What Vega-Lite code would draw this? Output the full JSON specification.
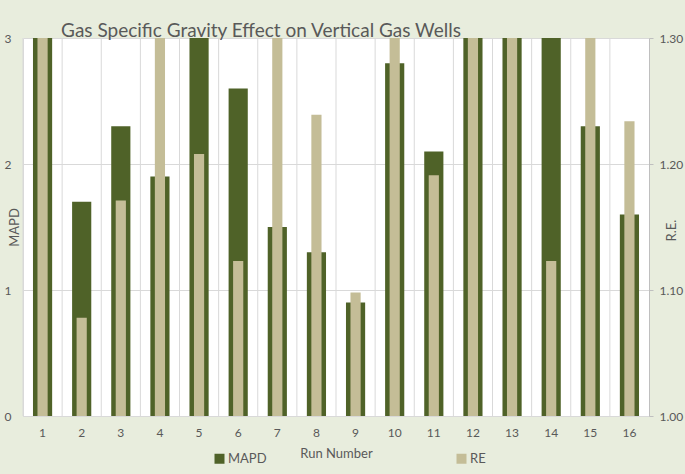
{
  "$schema": "https://vega.github.io/schema/vega-lite/v6.json",
  "width": 626,
  "height": 378,
  "autosize": {"type": "none"},
  "padding": {"left": 23, "top": 38, "right": 36, "bottom": 58},
  "background": "#e8eddd",
  "title": {
    "text": "Gas Specific Gravity Effect on Vertical Gas Wells",
    "font": "Lato",
    "fontSize": 19,
    "fontWeight": "normal",
    "color": "#595959",
    "anchor": "middle",
    "frame": "group",
    "dx": -75,
    "dy": 22,
    "baseline": "bottom",
    "offset": -6
  },
  "config": {
    "view": {"fill": "white", "stroke": null},
    "font": "Lato",
    "axis": {
      "labelFont": "Lato",
      "titleFont": "Lato",
      "labelColor": "#595959",
      "titleColor": "#595959",
      "labelFontSize": 12,
      "titleFontSize": 13,
      "titleFontWeight": "normal"
    }
  },
  "data": {
    "values": [
      {"run": 1, "MAPD": 3.4, "RE": 1.34},
      {"run": 2, "MAPD": 1.7, "RE": 1.078},
      {"run": 3, "MAPD": 2.3, "RE": 1.171},
      {"run": 4, "MAPD": 1.9, "RE": 1.33},
      {"run": 5, "MAPD": 3.3, "RE": 1.208},
      {"run": 6, "MAPD": 2.6, "RE": 1.123},
      {"run": 7, "MAPD": 1.5, "RE": 1.32},
      {"run": 8, "MAPD": 1.3, "RE": 1.239},
      {"run": 9, "MAPD": 0.9, "RE": 1.098},
      {"run": 10, "MAPD": 2.8, "RE": 1.31},
      {"run": 11, "MAPD": 2.1, "RE": 1.191},
      {"run": 12, "MAPD": 3.2, "RE": 1.33},
      {"run": 13, "MAPD": 3.1, "RE": 1.34},
      {"run": 14, "MAPD": 3.3, "RE": 1.123},
      {"run": 15, "MAPD": 2.3, "RE": 1.32},
      {"run": 16, "MAPD": 1.6, "RE": 1.234}
    ]
  },
  "layer": [
    {
      "mark": {"type": "rule", "color": "#d9d9d9", "strokeWidth": 1},
      "encoding": {
        "x": {
          "field": "run", "type": "ordinal", "bandPosition": 0,
          "scale": {"paddingInner": 0, "paddingOuter": 0},
          "axis": {"title": "Run Number", "titleY": 37, "titleBaseline": "middle", "labelAngle": 0, "labelPadding": 11, "ticks": false, "grid": false, "domainColor": "#d9d9d9"}
        }
      }
    },
    {
      "mark": {"type": "bar", "clip": true, "width": {"band": 0.49}},
      "encoding": {
        "x": {
          "field": "run", "type": "ordinal",
          "scale": {"paddingInner": 0, "paddingOuter": 0},
          "axis": {"title": "Run Number", "titleY": 37, "titleBaseline": "middle", "labelAngle": 0, "labelPadding": 11, "ticks": false, "grid": false, "domainColor": "#d9d9d9"}
        },
        "y": {
          "field": "MAPD", "type": "quantitative",
          "scale": {"domain": [0, 3], "nice": false},
          "axis": {
            "title": "MAPD",
            "values": [0, 0.5, 1, 1.5, 2, 2.5, 3],
            "format": "d",
            "labelExpr": "datum.value % 1 === 0 ? datum.label : ''",
            "labelAlign": "left",
            "labelPadding": 19,
            "ticks": false,
            "grid": true,
            "gridColor": "#d9d9d9",
            "domainColor": "#d9d9d9",
            "titleX": -9,
            "titleY": 189,
            "titleAngle": 270,
            "titleAlign": "center",
            "titleBaseline": "middle"
          }
        },
        "color": {
          "datum": "MAPD",
          "type": "nominal",
          "scale": {"domain": ["MAPD", "RE"], "range": ["#4f6228", "#c4bd97"]},
          "legend": {
            "orient": "none",
            "legendX": 190,
            "legendY": 414,
            "direction": "horizontal",
            "title": null,
            "symbolType": "square",
            "symbolSize": 100,
            "symbolStrokeWidth": 0,
            "labelFont": "Lato",
            "labelFontSize": 13,
            "labelColor": "#595959",
            "labelOffset": 2,
            "columnPadding": 188
          }
        }
      }
    },
    {
      "mark": {"type": "bar", "clip": true, "width": {"band": 0.26}},
      "encoding": {
        "x": {
          "field": "run", "type": "ordinal",
          "scale": {"paddingInner": 0, "paddingOuter": 0},
          "axis": {"title": "Run Number", "titleY": 37, "titleBaseline": "middle", "labelAngle": 0, "labelPadding": 11, "ticks": false, "grid": false, "domainColor": "#d9d9d9"}
        },
        "y": {
          "field": "RE", "type": "quantitative",
          "scale": {"domain": [1, 1.3], "nice": false, "zero": false},
          "axis": {
            "title": "R.E.",
            "orient": "right",
            "format": ".2f",
            "values": [1, 1.1, 1.2, 1.3],
            "grid": false,
            "ticks": true,
            "tickSize": 4,
            "tickColor": "#bfbfbf",
            "domainColor": "#bfbfbf",
            "labelAlign": "left",
            "labelPadding": 6,
            "titleX": 22,
            "titleY": 192,
            "titleAngle": 270,
            "titleAlign": "center",
            "titleBaseline": "middle"
          }
        },
        "y2": {"datum": 1},
        "color": {"datum": "RE", "type": "nominal"}
      }
    }
  ],
  "resolve": {"scale": {"y": "independent"}}
}
